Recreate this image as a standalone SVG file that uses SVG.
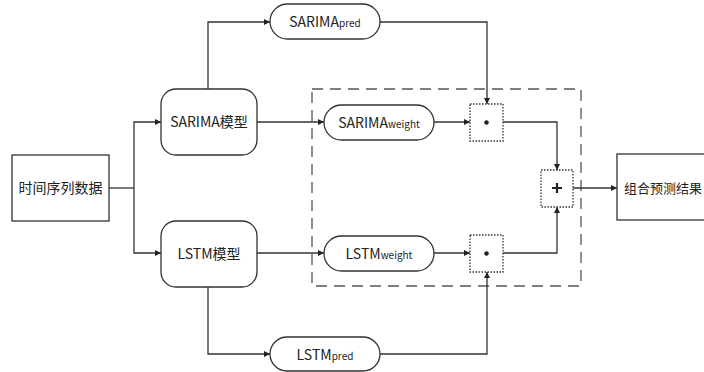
<svg xmlns="http://www.w3.org/2000/svg" width="704" height="372" viewBox="0 0 704 372">
<defs>
<marker id="ah" viewBox="0 0 10 10" refX="10" refY="5" markerWidth="6" markerHeight="6" orient="auto" markerUnits="userSpaceOnUse">
<path d="M0,0 L10,5 L0,10 z" fill="#222"/>
</marker>
<style>
.n{fill:#fff;stroke:#333;stroke-width:1.3}
.op{fill:#fff;stroke:#333;stroke-width:1.3;stroke-dasharray:1.5 1.5}
.c{fill:none;stroke:#333;stroke-width:1.3;marker-end:url(#ah)}
.l{fill:none;stroke:#333;stroke-width:1.3}
.t{font-family:"Noto Sans CJK SC","Noto Sans",sans-serif;font-size:14px;fill:#222;text-anchor:middle}
.s{font-size:10px}
.dash{fill:none;stroke:#555;stroke-width:1.3;stroke-dasharray:11 7}
</style>
</defs>
<rect class="dash" x="312" y="89" width="269" height="197"/>
<g id="connectors">
<path class="l" d="M109,188 H134"/>
<path class="c" d="M134,188 V122 H161"/>
<path class="c" d="M134,188 V253 H161"/>
<path class="c" d="M208,89 V22 H270"/>
<path class="c" d="M257,122 H324"/>
<path class="c" d="M257,253 H324"/>
<path class="c" d="M208,287 V354 H270"/>
<path class="c" d="M380,22 H487 V104"/>
<path class="c" d="M434,122 H470"/>
<path class="c" d="M434,253 H470"/>
<path class="c" d="M380,354 H487 V272"/>
<path class="c" d="M503,122 H557 V170"/>
<path class="c" d="M503,253 H557 V207"/>
<path class="c" d="M573,188 H617"/>
</g>
<g id="data">
<rect class="n" x="12" y="155" width="97" height="66"/>
<text class="t" x="60.5" y="193">时间序列数据</text>
</g>
<g id="sarima">
<rect class="n" x="161" y="89" width="96" height="66" rx="15"/>
<text class="t" x="209" y="127">SARIMA模型</text>
</g>
<g id="lstm">
<rect class="n" x="161" y="221" width="96" height="66" rx="15"/>
<text class="t" x="209" y="259">LSTM模型</text>
</g>
<g id="sarima_pred">
<rect class="n" x="270" y="4" width="110" height="35" rx="17.5"/>
<text class="t" x="325" y="27">SARIMA<tspan class="s">pred</tspan></text>
</g>
<g id="sarima_weight">
<rect class="n" x="324" y="105" width="110" height="35" rx="17.5"/>
<text class="t" x="379" y="128">SARIMA<tspan class="s">weight</tspan></text>
</g>
<g id="lstm_weight">
<rect class="n" x="324" y="236" width="110" height="35" rx="17.5"/>
<text class="t" x="379" y="259">LSTM<tspan class="s">weight</tspan></text>
</g>
<g id="lstm_pred">
<rect class="n" x="270" y="337" width="110" height="34" rx="17"/>
<text class="t" x="325" y="360">LSTM<tspan class="s">pred</tspan></text>
</g>
<g id="mul1">
<rect class="op" x="470" y="104" width="33" height="37"/>
<circle cx="486.5" cy="122.5" r="2.3" fill="#222"/>
</g>
<g id="mul2">
<rect class="op" x="470" y="235" width="33" height="37"/>
<circle cx="486.5" cy="253.5" r="2.3" fill="#222"/>
</g>
<g id="add">
<rect class="op" x="541" y="170" width="32" height="37"/>
<path d="M557,183 V193 M552,188 H562" stroke="#222" stroke-width="2.2" fill="none"/>
</g>
<g id="result">
<rect class="n" x="617" y="154" width="100" height="66"/>
<text class="t" x="624" y="193" style="text-anchor:start;font-size:13px">组合预测结果</text>
</g>
</svg>
